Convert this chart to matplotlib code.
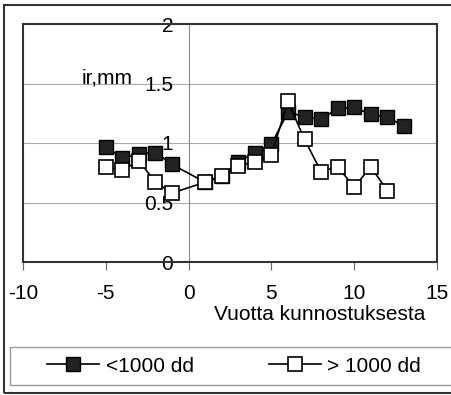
import matplotlib.pyplot as plt
from matplotlib.patches import Rectangle

plt.rcParams['font.family'] = ['Liberation Sans', 'DejaVu Sans']

# years from restoration
x_low = [-5, -4, -3, -2, -1, 1, 2, 3, 4, 5, 6, 7, 8, 9, 10, 11, 12, 13]
y_low = [0.97, 0.87, 0.91, 0.92, 0.82, 0.67, 0.72, 0.84, 0.92, 0.99, 1.26, 1.22, 1.20, 1.29, 1.30, 1.24, 1.22, 1.14]
x_high = [-5, -4, -3, -2, -1, 1, 2, 3, 4, 5, 6, 7, 8, 9, 10, 11, 12]
y_high = [0.80, 0.77, 0.85, 0.67, 0.58, 0.67, 0.72, 0.81, 0.84, 0.90, 1.35, 1.03, 0.76, 0.80, 0.63, 0.80, 0.60]
labels = ['<1000 dd', '> 1000 dd']
xticks = [-10, -5, 0, 5, 10, 15]
yticks = [0, 0.5, 1, 1.5, 2]

W, H = 451, 395
fs = 15
fig = plt.figure(figsize=(W / 100, H / 100), dpi=100)
ax = fig.add_axes([23 / W, 1 - 262 / H, 414 / W, 238 / H])

ax.plot(x_low, y_low, color='black', lw=1.2, marker='s', ms=10,
        mfc='#222222', mec='black', label=labels[0], zorder=3)
ax.plot(x_high, y_high, color='black', lw=1.2, marker='s', ms=10,
        mfc='white', mec='black', mew=1.2, label=labels[1], zorder=4)

ax.set_xlim(-10, 15)
ax.set_ylim(0, 2)
ax.set_xticks(xticks)
ax.set_xticklabels([str(t) for t in xticks])
ax.set_yticks(yticks)
ax.set_yticklabels(['0', '0.5', '1', '1.5', '2'])

# y axis crosses at x = 0 (Excel style)
ax.spines['left'].set_position(('data', 0))
ax.spines['left'].set_color('#888888')
ax.spines['left'].set_linewidth(0.8)
for s in ['top', 'right', 'bottom']:
    ax.spines[s].set_visible(False)
ax.add_patch(Rectangle((0, 0), 1, 1, transform=ax.transAxes, fill=False,
                       ec='#333333', lw=1.5, zorder=5, clip_on=False))

ax.grid(axis='y', color='#aaaaaa', lw=0.8)
ax.tick_params(axis='y', length=0, pad=11, labelsize=fs)
ax.tick_params(axis='x', length=6, direction='out', pad=10, labelsize=fs,
               color='#666666')
ax.text(-3.4, 1.55, 'ir,mm', ha='right', va='center', fontsize=fs)
ax.set_xlabel('Vuotta kunnostuksesta', fontsize=fs)
ax.xaxis.set_label_coords(0.717, -0.18)

fig.legend(loc='center', bbox_to_anchor=(234 / W, 1 - 366 / H), ncol=2,
           frameon=False, fontsize=fs, handlelength=2.5, handletextpad=0.3,
           columnspacing=3.6)
fig.add_artist(Rectangle((10 / W, 1 - 385 / H), 445 / W, 38 / H,
                         transform=fig.transFigure, fill=False, ec='#999999', lw=1))

# outer frame
fig.add_artist(Rectangle((4 / W, 2 / H), 450 / W, 388 / H, transform=fig.transFigure,
                         fill=False, ec='#333333', lw=1.5))

fig.savefig('out.png', dpi=100)
